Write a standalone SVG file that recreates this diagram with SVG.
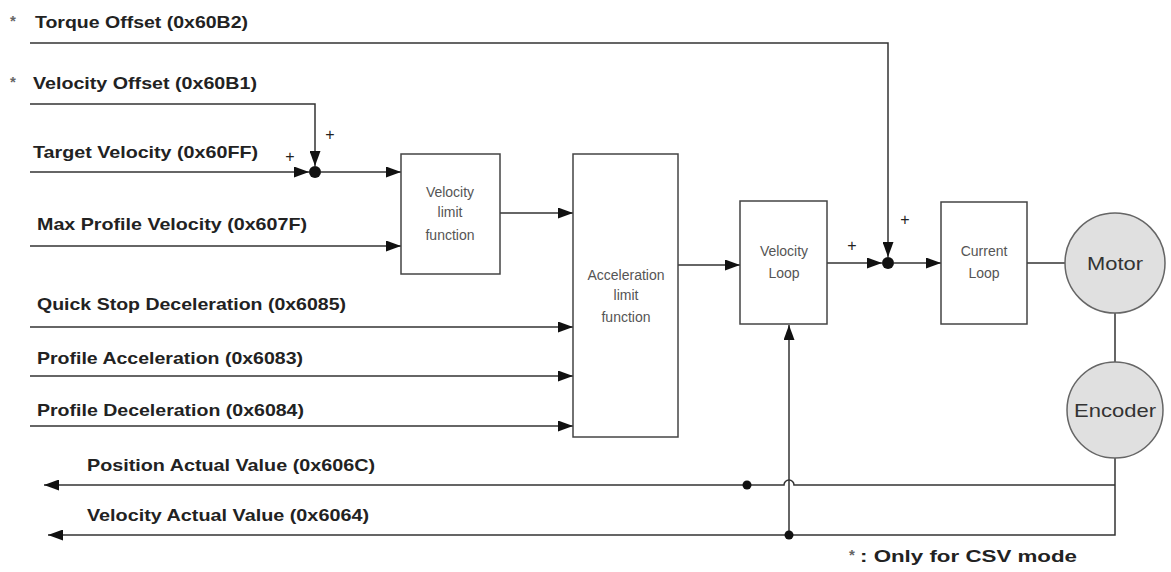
<svg xmlns="http://www.w3.org/2000/svg" width="1171" height="572" viewBox="0 0 1171 572">
<defs>
<marker id="arr" markerUnits="userSpaceOnUse" markerWidth="15" markerHeight="11" refX="15" refY="5.5" orient="auto">
<path d="M0,0 L15,5.5 L0,11 z" fill="#111"/>
</marker>
<style>
.lbl{font-family:"Liberation Sans",Arial,sans-serif;font-weight:bold;font-size:17px;fill:#222}
.box{fill:#fff;stroke:#444;stroke-width:1.5}
.btxt{font-family:"Liberation Sans",Arial,sans-serif;font-size:14px;fill:#555;text-anchor:middle}
.ctxt{font-family:"Liberation Sans",Arial,sans-serif;font-size:19px;fill:#333;text-anchor:middle}
.circ{fill:#e0e0e0;stroke:#666;stroke-width:1.5}
.ln{fill:none;stroke:#333;stroke-width:1.5}
.pl{font-family:"Liberation Sans",Arial,sans-serif;font-size:16px;fill:#222;text-anchor:middle}
.ast{font-family:"Liberation Sans",Arial,sans-serif;font-weight:bold;font-size:15px;fill:#666}
</style>
</defs>
<rect width="1171" height="572" fill="#fff"/>

<g id="labels">
<text class="ast" x="10" y="26">*</text>
<text class="lbl" x="35" y="28" textLength="213" lengthAdjust="spacingAndGlyphs">Torque Offset (0x60B2)</text>
<text class="ast" x="10" y="87">*</text>
<text class="lbl" x="33" y="89" textLength="224" lengthAdjust="spacingAndGlyphs">Velocity Offset (0x60B1)</text>
<text class="lbl" x="33" y="158" textLength="225" lengthAdjust="spacingAndGlyphs">Target Velocity (0x60FF)</text>
<text class="lbl" x="37" y="230" textLength="270" lengthAdjust="spacingAndGlyphs">Max Profile Velocity (0x607F)</text>
<text class="lbl" x="37" y="310" textLength="309" lengthAdjust="spacingAndGlyphs">Quick Stop Deceleration (0x6085)</text>
<text class="lbl" x="37" y="364" textLength="266" lengthAdjust="spacingAndGlyphs">Profile Acceleration (0x6083)</text>
<text class="lbl" x="37" y="416" textLength="267" lengthAdjust="spacingAndGlyphs">Profile Deceleration (0x6084)</text>
<text class="lbl" x="87" y="471" textLength="288" lengthAdjust="spacingAndGlyphs">Position Actual Value (0x606C)</text>
<text class="lbl" x="87" y="521" textLength="282" lengthAdjust="spacingAndGlyphs">Velocity Actual Value (0x6064)</text>
<text class="ast" x="849" y="560">*</text>
<text class="lbl" x="860" y="562" textLength="217" lengthAdjust="spacingAndGlyphs">: Only for CSV mode</text>
<text class="pl" x="290" y="162">+</text>
<text class="pl" x="330" y="140">+</text>
<text class="pl" x="852" y="251">+</text>
<text class="pl" x="905" y="225">+</text>
</g>

<g id="connectors">
<path class="ln" d="M30,43 H888 V257" marker-end="url(#arr)"/>
<path class="ln" d="M30,104 H315 V166" marker-end="url(#arr)"/>
<path class="ln" d="M30,172 H309" marker-end="url(#arr)"/>
<path class="ln" d="M321,172 H401" marker-end="url(#arr)"/>
<path class="ln" d="M30,246 H401" marker-end="url(#arr)"/>
<path class="ln" d="M500,213 H573" marker-end="url(#arr)"/>
<path class="ln" d="M30,327 H573" marker-end="url(#arr)"/>
<path class="ln" d="M30,376 H573" marker-end="url(#arr)"/>
<path class="ln" d="M30,426 H573" marker-end="url(#arr)"/>
<path class="ln" d="M678,265 H740" marker-end="url(#arr)"/>
<path class="ln" d="M827,263 H882" marker-end="url(#arr)"/>
<path class="ln" d="M894,263 H941" marker-end="url(#arr)"/>
<path class="ln" d="M1027,263 H1065"/>
<path class="ln" d="M1115,313 V362"/>
<path class="ln" d="M1115,458 V535 H48" marker-end="url(#arr)"/>
<path class="ln" d="M1115,485 H794 A5,5 0 0 0 784,485 H44" marker-end="url(#arr)"/>
<path class="ln" d="M789,535 V325" marker-end="url(#arr)"/>
<circle cx="315" cy="172" r="6" fill="#111"/>
<circle cx="888" cy="263" r="6" fill="#111"/>
<circle cx="747" cy="485" r="4.5" fill="#111"/>
<circle cx="789" cy="535" r="4.5" fill="#111"/>
</g>

<g id="velocity-limit">
<rect class="box" x="401" y="154" width="99" height="120"/>
<text class="btxt" x="450" y="197">Velocity</text>
<text class="btxt" x="450" y="217">limit</text>
<text class="btxt" x="450" y="240">function</text>
</g>

<g id="acceleration-limit">
<rect class="box" x="573" y="154" width="105" height="283"/>
<text class="btxt" x="626" y="280">Acceleration</text>
<text class="btxt" x="626" y="300">limit</text>
<text class="btxt" x="626" y="322">function</text>
</g>

<g id="velocity-loop">
<rect class="box" x="740" y="201" width="87" height="123"/>
<text class="btxt" x="784" y="256">Velocity</text>
<text class="btxt" x="784" y="278">Loop</text>
</g>

<g id="current-loop">
<rect class="box" x="941" y="202" width="86" height="122"/>
<text class="btxt" x="984" y="256">Current</text>
<text class="btxt" x="984" y="278">Loop</text>
</g>

<g id="motor">
<circle class="circ" cx="1115" cy="263" r="50"/>
<text class="ctxt" x="1115" y="270" textLength="56" lengthAdjust="spacingAndGlyphs">Motor</text>
</g>

<g id="encoder">
<circle class="circ" cx="1115" cy="410" r="48"/>
<text class="ctxt" x="1115" y="417" textLength="82" lengthAdjust="spacingAndGlyphs">Encoder</text>
</g>
</svg>
